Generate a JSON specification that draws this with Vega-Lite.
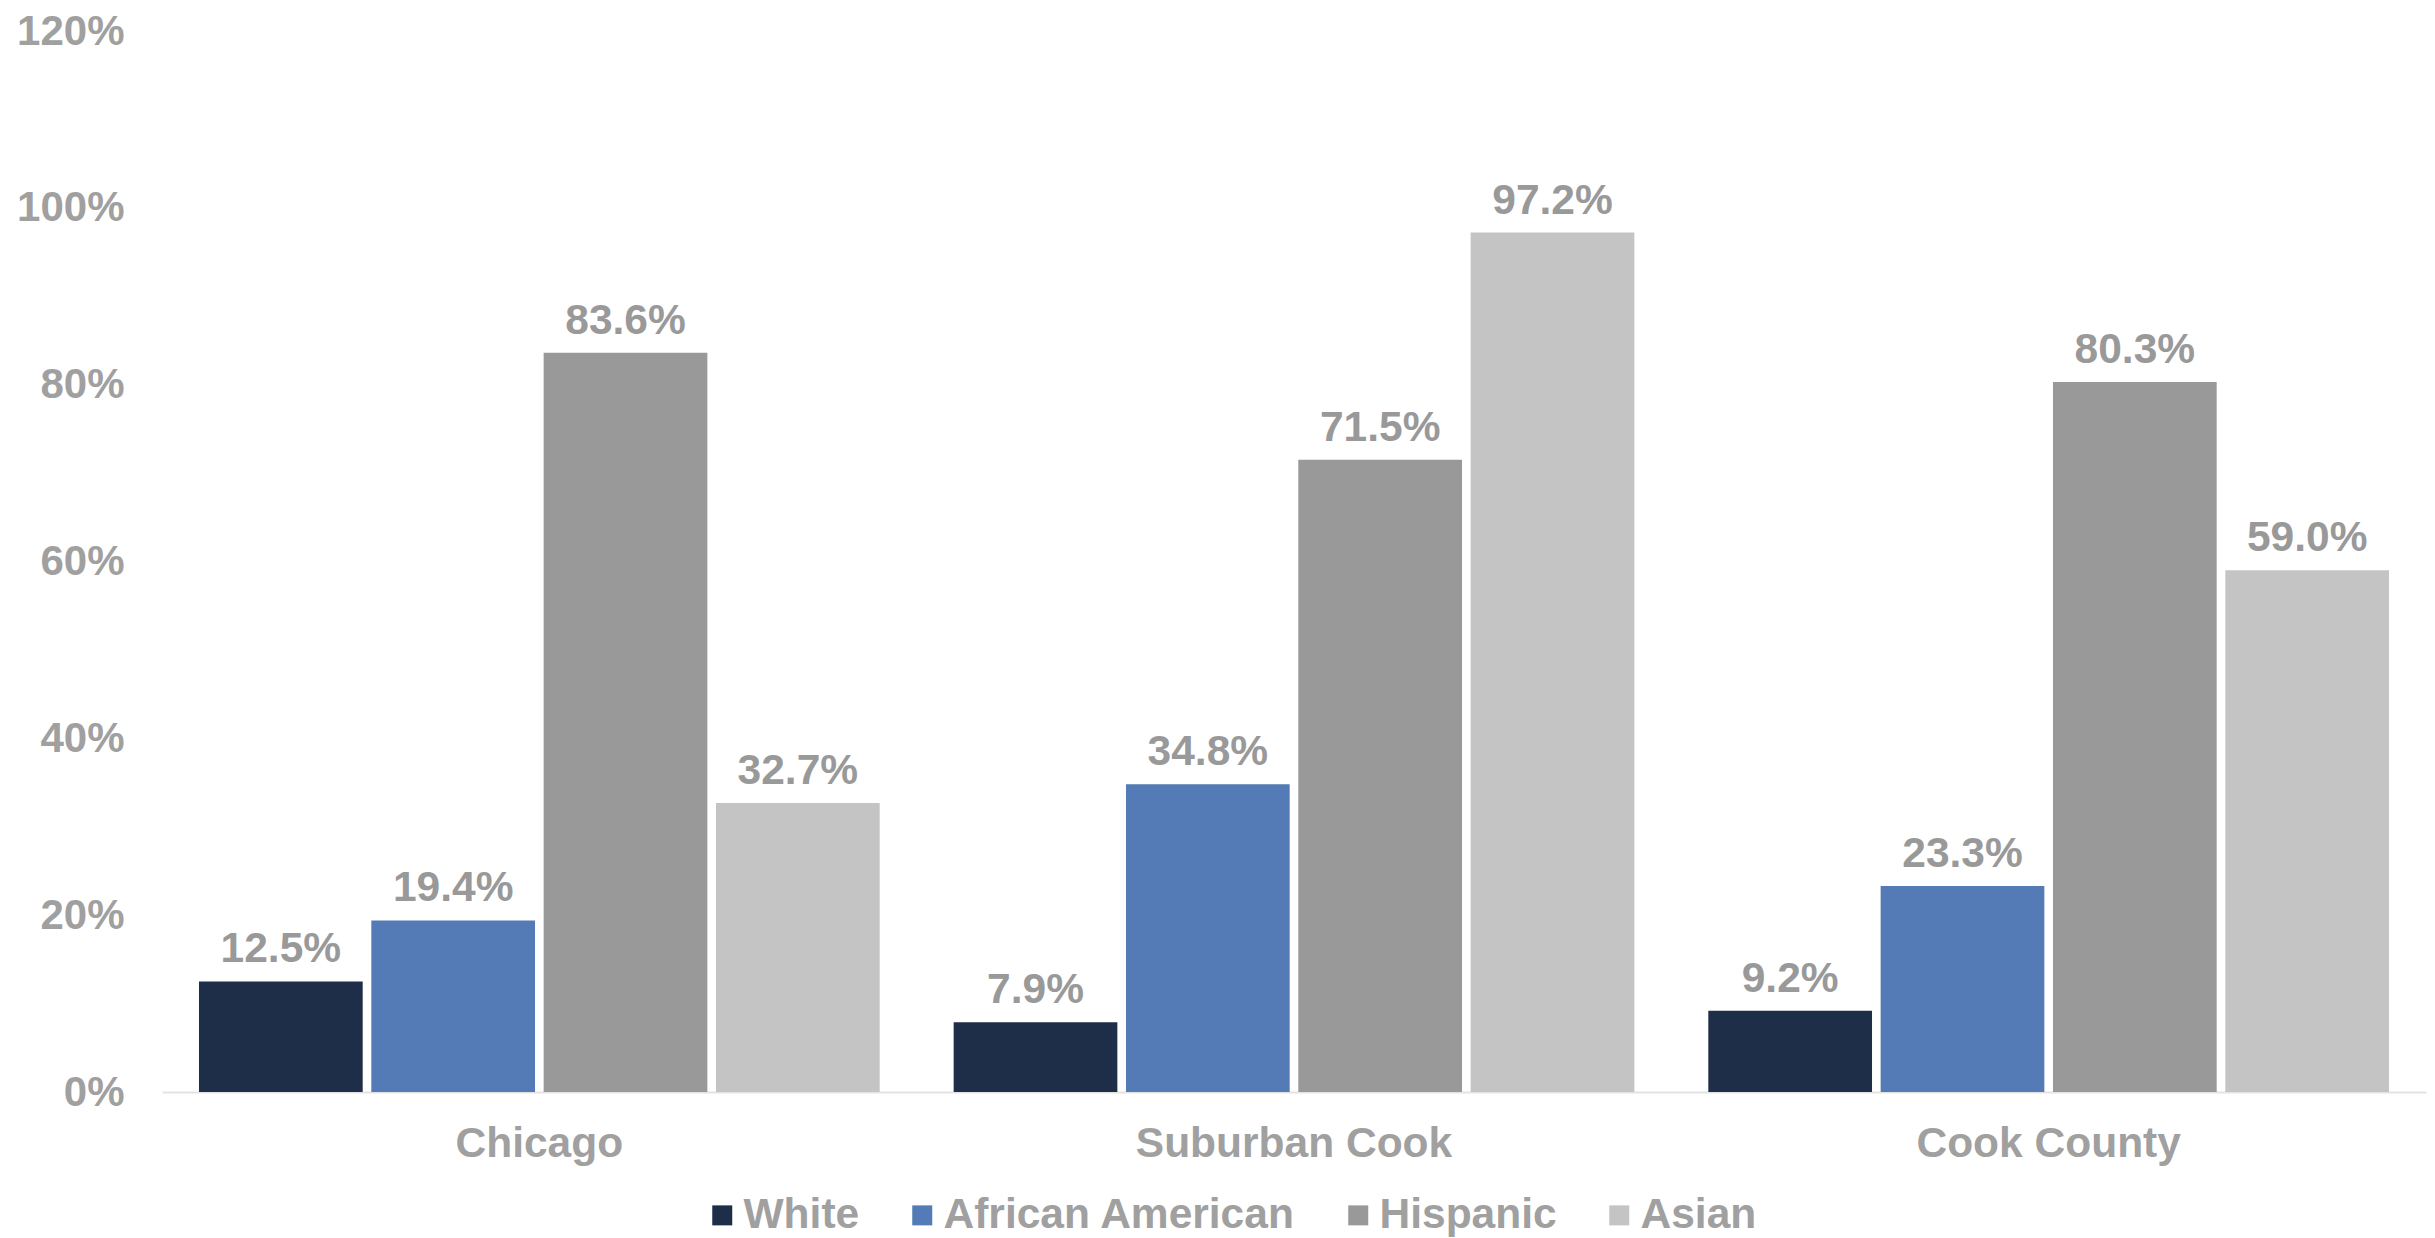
{
  "$schema": "https://vega.github.io/schema/vega-lite/v6.json",
  "width": 2264,
  "height": 1061,
  "autosize": {"type": "none"},
  "padding": {"left": 162, "top": 31, "right": 9, "bottom": 146},
  "background": "white",
  "config": {
    "view": {"stroke": null},
    "font": "Liberation Sans",
    "axis": {"labelFont": "Liberation Sans", "labelFontWeight": "bold", "labelFontSize": 42.5, "labelColor": "#a0a0a0", "labelLimit": 0},
    "legend": {"labelFont": "Liberation Sans", "labelFontWeight": "bold", "labelFontSize": 42.5, "labelColor": "#a0a0a0", "labelLimit": 0}
  },
  "data": {
    "values": [
      {"region": "Chicago", "group": "White", "value": 0.125},
      {"region": "Chicago", "group": "African American", "value": 0.194},
      {"region": "Chicago", "group": "Hispanic", "value": 0.836},
      {"region": "Chicago", "group": "Asian", "value": 0.327},
      {"region": "Suburban Cook", "group": "White", "value": 0.079},
      {"region": "Suburban Cook", "group": "African American", "value": 0.348},
      {"region": "Suburban Cook", "group": "Hispanic", "value": 0.715},
      {"region": "Suburban Cook", "group": "Asian", "value": 0.972},
      {"region": "Cook County", "group": "White", "value": 0.092},
      {"region": "Cook County", "group": "African American", "value": 0.233},
      {"region": "Cook County", "group": "Hispanic", "value": 0.803},
      {"region": "Cook County", "group": "Asian", "value": 0.59}
    ]
  },
  "encoding": {
    "x": {
      "field": "region", "type": "nominal",
      "sort": ["Chicago", "Suburban Cook", "Cook County"],
      "scale": {"paddingInner": 0.098, "paddingOuter": 0.049},
      "axis": {"title": null, "labelAngle": 0, "ticks": false, "labelPadding": 30, "domainColor": "#e3e3e3", "domainWidth": 2}
    },
    "xOffset": {
      "field": "group", "type": "nominal",
      "sort": ["White", "African American", "Hispanic", "Asian"],
      "scale": {"paddingInner": 0.05, "paddingOuter": 0}
    },
    "y": {
      "field": "value", "type": "quantitative",
      "scale": {"domain": [0, 1.2], "nice": false},
      "axis": {"title": null, "format": ".0%", "values": [0, 0.2, 0.4, 0.6, 0.8, 1.0, 1.2], "domain": false, "ticks": false, "grid": false, "labelPadding": 38, "labelFontSize": 42}
    }
  },
  "layer": [
    {
      "mark": {"type": "bar"},
      "encoding": {
        "color": {
          "field": "group", "type": "nominal",
          "sort": ["White", "African American", "Hispanic", "Asian"],
          "scale": {"domain": ["White", "African American", "Hispanic", "Asian"], "range": ["#1f2e48", "#547bb5", "#999999", "#c4c4c4"]},
          "legend": {
            "title": null, "orient": "none", "direction": "horizontal",
            "legendX": 539, "legendY": 1163,
            "symbolType": "square", "symbolSize": 400, "symbolStrokeWidth": 0,
            "labelOffset": 0, "columnPadding": 41
          }
        }
      }
    },
    {
      "mark": {"type": "text", "baseline": "alphabetic", "dy": -19, "fontSize": 42.5, "fontWeight": "bold", "color": "#999999", "font": "Liberation Sans"},
      "encoding": {
        "text": {"field": "value", "type": "quantitative", "format": ".1%"}
      }
    }
  ]
}
